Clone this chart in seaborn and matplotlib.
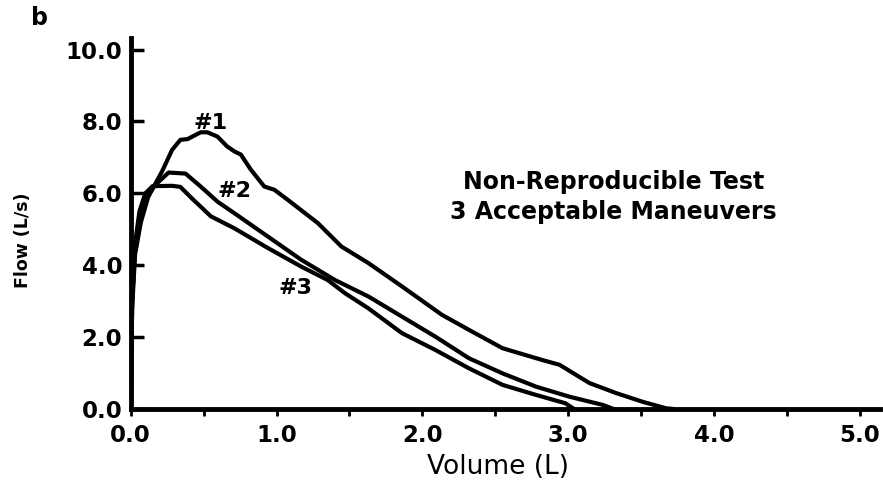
import numpy as np
import pandas as pd
import matplotlib
matplotlib.use("Agg")
import matplotlib.pyplot as plt
import seaborn as sns

# Maneuver #1
vol1 = [0.0, 0.01, 0.03, 0.07, 0.12, 0.215, 0.284, 0.341, 0.39, 0.48, 0.525, 0.595, 0.66, 0.71, 0.755,
        0.824, 0.916, 0.985, 1.077, 1.284, 1.445, 1.63, 1.86, 2.134, 2.32, 2.55, 2.824, 2.94, 3.146,
        3.33, 3.51, 3.67, 3.72]
flow1 = [0.0, 2.8, 4.3, 5.2, 5.9, 6.61, 7.21, 7.49, 7.51, 7.70, 7.70, 7.58, 7.31, 7.17, 7.08,
         6.66, 6.19, 6.10, 5.82, 5.17, 4.52, 4.06, 3.41, 2.62, 2.20, 1.69, 1.36, 1.23, 0.72,
         0.44, 0.20, 0.02, 0.0]
# Maneuver #2
vol2 = [0.0, 0.01, 0.03, 0.06, 0.10, 0.16, 0.26, 0.376, 0.48, 0.595, 0.71, 0.94, 1.17, 1.40, 1.63,
        1.86, 2.09, 2.32, 2.55, 2.78, 3.01, 3.24, 3.31]
flow2 = [0.0, 3.0, 4.5, 5.3, 5.8, 6.2, 6.58, 6.55, 6.19, 5.77, 5.45, 4.80, 4.15, 3.59, 3.13,
         2.57, 2.01, 1.41, 0.99, 0.62, 0.34, 0.11, 0.0]
# Maneuver #3
vol3 = [0.0, 0.01, 0.03, 0.06, 0.10, 0.15, 0.284, 0.34, 0.43, 0.55, 0.71, 0.94, 1.17, 1.35, 1.47,
        1.63, 1.86, 2.09, 2.32, 2.55, 2.78, 2.98, 3.04]
flow3 = [0.0, 3.0, 4.6, 5.5, 6.0, 6.2, 6.21, 6.18, 5.82, 5.36, 5.03, 4.48, 3.96, 3.59, 3.22,
         2.80, 2.11, 1.64, 1.13, 0.67, 0.39, 0.16, 0.0]

curve_labels = ["#1", "#2", "#3"]
label_pos_x = [0.55, 0.71, 1.13]
label_pos_y = [7.97, 6.07, 3.37]
x_ticks = [0.0, 1.0, 2.0, 3.0, 4.0, 5.0]
y_ticks = [0.0, 2.0, 4.0, 6.0, 8.0, 10.0]

df = pd.concat([
    pd.DataFrame({"Volume": vol1, "Flow": flow1, "m": "#1"}),
    pd.DataFrame({"Volume": vol2, "Flow": flow2, "m": "#2"}),
    pd.DataFrame({"Volume": vol3, "Flow": flow3, "m": "#3"}),
])

sns.set_style("ticks")
plt.rcParams['font.family'] = ['DejaVu Sans']
plt.rcParams['text.color'] = 'black'
plt.rcParams['axes.labelcolor'] = 'black'
plt.rcParams['xtick.color'] = 'black'
plt.rcParams['ytick.color'] = 'black'

fig = plt.figure(figsize=(8.83, 4.84), dpi=100)
ax = fig.add_axes([0.148, 0.155, 0.849, 0.767])

for name in curve_labels:
    sub = df[df["m"] == name]
    sns.lineplot(data=sub, x="Volume", y="Flow", sort=False, color="black", lw=3.0, ax=ax,
                 estimator=None)

ax.set_xlim(0, 5.14)
ax.set_ylim(0, 10.33)
ax.set_xticks(x_ticks)
ax.set_xticklabels([f"{v:.1f}" for v in x_ticks], fontsize=16.5, fontweight="bold")
ax.set_xticks([0.5, 1.5, 2.5, 3.5, 4.5], minor=True)
ax.set_yticks(y_ticks)
ax.set_yticklabels([f"{v:.1f}" for v in y_ticks], fontsize=16.5, fontweight="bold")
ax.tick_params(axis="y", direction="in", length=9.5, width=2.5, pad=6)
ax.tick_params(axis="x", which="both", direction="out", length=5, width=2, pad=6)
for s in ["top", "right"]:
    ax.spines[s].set_visible(False)
for s in ["left", "bottom"]:
    ax.spines[s].set_linewidth(3.5)
    ax.spines[s].set_color("black")

ax.set_xlabel("Volume (L)", fontsize=19)
ax.xaxis.set_label_coords(0.49, -0.12)
ax.set_ylabel("Flow (L/s)", fontsize=12.5, fontweight="bold")
ax.yaxis.set_label_coords(-0.132, 0.455)

for t, x, y in zip(curve_labels, label_pos_x, label_pos_y):
    ax.text(x, y, t, fontsize=16, fontweight="bold", ha="center", va="center")

ax.text(3.31, 5.9, "Non-Reproducible Test\n3 Acceptable Maneuvers", fontsize=17,
        fontweight="bold", ha="center", va="center", linespacing=1.3)

fig.text(0.045, 0.962, "b", fontsize=17, fontweight="bold", ha="center", va="center")

fig.savefig("out.png", dpi=100)
